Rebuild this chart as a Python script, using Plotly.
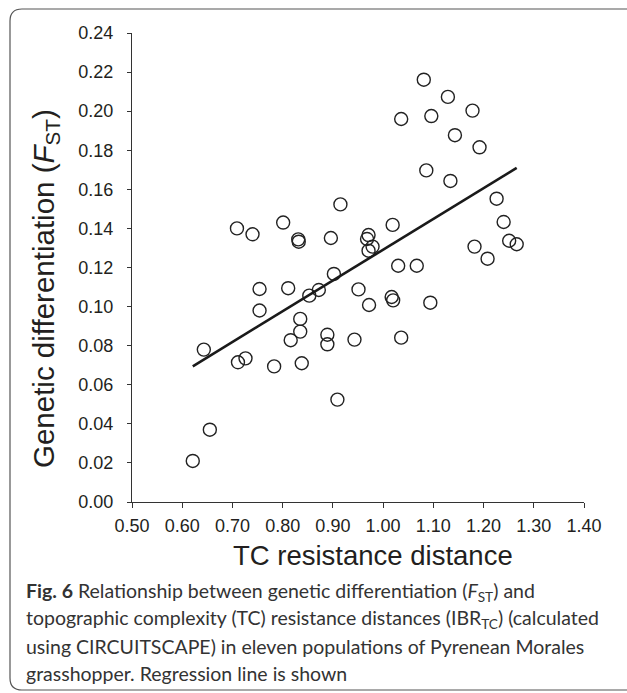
import plotly.graph_objects as go

# ---- data ----
tc_distance = [0.621, 0.643, 0.655, 0.709, 0.711, 0.726, 0.740, 0.754, 0.754, 0.783,
               0.801, 0.811, 0.816, 0.831, 0.832, 0.835, 0.835, 0.838, 0.853, 0.872,
               0.889, 0.889, 0.896, 0.902, 0.909, 0.915, 0.943, 0.951, 0.968, 0.971,
               0.971, 0.979, 0.972, 1.017, 1.020, 1.019, 1.030, 1.036, 1.036, 1.067,
               1.081, 1.086, 1.094, 1.096, 1.129, 1.134, 1.143, 1.178, 1.182, 1.192,
               1.208, 1.226, 1.240, 1.251, 1.266]
fst = [0.021, 0.078, 0.037, 0.140, 0.0715, 0.0735, 0.137, 0.109, 0.098, 0.0694,
       0.143, 0.1094, 0.0828, 0.1344, 0.1332, 0.0937, 0.0872, 0.0710, 0.1056, 0.1085,
       0.0856, 0.0807, 0.1351, 0.1167, 0.0524, 0.1523, 0.0831, 0.1088, 0.1346, 0.1366,
       0.1286, 0.1307, 0.1008, 0.1049, 0.1032, 0.1418, 0.1209, 0.0841, 0.1960, 0.1209,
       0.2161, 0.1697, 0.1020, 0.1975, 0.2073, 0.1643, 0.1877, 0.2003, 0.1307, 0.1815,
       0.1245, 0.1552, 0.1433, 0.1337, 0.1319]
fit_slope = 0.1574
fit_intercept = -0.0283
x_ticks = [0.50, 0.60, 0.70, 0.80, 0.90, 1.00, 1.10, 1.20, 1.30, 1.40]
y_ticks = [0.00, 0.02, 0.04, 0.06, 0.08, 0.10, 0.12, 0.14, 0.16, 0.18, 0.20, 0.22, 0.24]

caption_lines = [
    "<b>Fig. 6</b> Relationship between genetic differentiation (<i>F</i><sub>ST</sub>) and",
    "topographic complexity (TC) resistance distances (IBR<sub>TC</sub>) (calculated",
    "using CIRCUITSCAPE) in eleven populations of Pyrenean Morales",
    "grasshopper. Regression line is shown",
]

# ---- layout geometry ----
W, H = 627, 693
L, R, T, B = 132, 584, 33, 502


def px(xp):
    return (xp - L) / (R - L)


def py(yp):
    return (B - yp) / (B - T)


fit_x = [min(tc_distance), max(tc_distance)]
fit_y = [fit_intercept + fit_slope * v for v in fit_x]

fig = go.Figure()
fig.add_trace(go.Scatter(
    x=tc_distance, y=fst, mode="markers",
    marker=dict(symbol="circle-open", size=13, color="#222222", line=dict(width=1.4, color="#222222")),
    showlegend=False, hoverinfo="skip"))
fig.add_trace(go.Scatter(
    x=fit_x, y=fit_y, mode="lines",
    line=dict(color="#1a1a1a", width=2.6),
    showlegend=False, hoverinfo="skip"))

axis_font = dict(family="Liberation Sans, Arial, sans-serif", size=18, color="#231f20")
fig.update_layout(
    width=W, height=H,
    margin=dict(l=L, r=W - R, t=T, b=H - B, pad=0),
    paper_bgcolor="white", plot_bgcolor="white",
    xaxis=dict(range=[0.5, 1.4], tickvals=x_ticks, tickformat=".2f",
               showline=True, linecolor="#333333", linewidth=1.3,
               ticks="outside", ticklen=5, tickwidth=1.3, tickcolor="#333333",
               showgrid=False, zeroline=False, tickfont=axis_font,
               ticklabelstandoff=2),
    yaxis=dict(range=[0, 0.24], tickvals=y_ticks, tickformat=".2f",
               showline=True, linecolor="#333333", linewidth=1.3,
               ticks="outside", ticklen=4, tickwidth=1.3, tickcolor="#333333",
               showgrid=False, zeroline=False, tickfont=axis_font,
               ticklabelstandoff=10),
)

# axis titles
fig.add_annotation(x=px(373), y=py(555), xref="paper", yref="paper",
                   text="TC resistance distance", showarrow=False,
                   font=dict(family="Liberation Sans, Arial, sans-serif", size=27.5, color="#231f20"),
                   xanchor="center", yanchor="middle")
fig.add_annotation(x=px(45), y=py(289), xref="paper", yref="paper",
                   text="Genetic differentiation (<i>F</i><sub>ST</sub>)", showarrow=False,
                   textangle=-90,
                   font=dict(family="Liberation Sans, Arial, sans-serif", size=29.5, color="#231f20"),
                   xanchor="center", yanchor="middle")

# caption lines
baselines = [597, 624, 651, 678]
for text, yb in zip(caption_lines, baselines):
    fig.add_annotation(x=px(24), y=py(yb - 5), xref="paper", yref="paper",
                       text=text, showarrow=False, align="left",
                       font=dict(family="Lato, Open Sans, sans-serif", size=19.5, color="#333333"),
                       xanchor="left", yanchor="middle")

# rounded frame around the figure
x0, y0, x1, y1, r = 10, 9, 660, 690, 12
path = (f"M {px(x0)},{py(y0 + r)} L {px(x0)},{py(y1 - r)} "
        f"Q {px(x0)},{py(y1)} {px(x0 + r)},{py(y1)} "
        f"L {px(x1)},{py(y1)} "
        f"M {px(x0)},{py(y0 + r)} Q {px(x0)},{py(y0)} {px(x0 + r)},{py(y0)} "
        f"L {px(x1)},{py(y0)}")
fig.add_shape(type="path", path=path, xref="paper", yref="paper",
              line=dict(color="#555555", width=1.2), layer="below")

fig.write_html("out.html",
               config={"displayModeBar": False},
               post_script="document.body.style.margin='0px';document.body.style.overflow='hidden';")
